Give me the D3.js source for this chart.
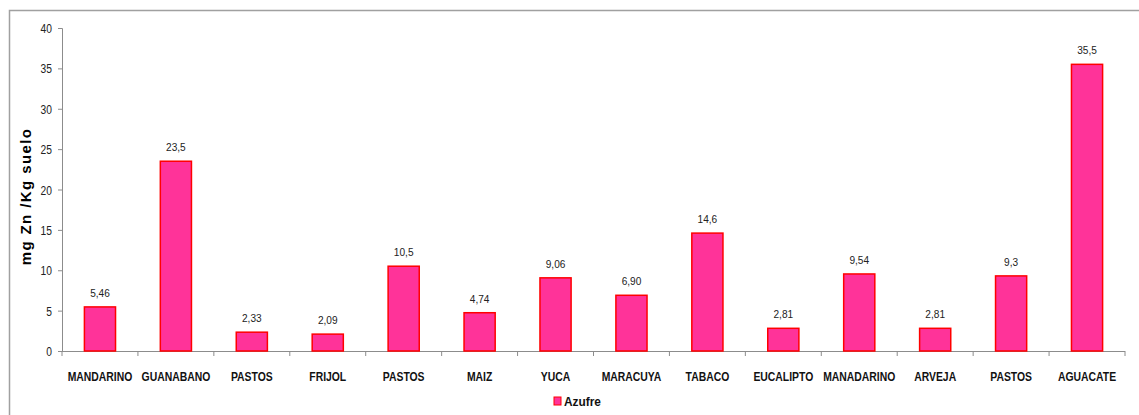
<!DOCTYPE html>
<html>
<head>
<meta charset="utf-8">
<script src="https://cdn.jsdelivr.net/npm/d3@7"></script>
<style>
  body { margin: 0; background: #fff; }
  svg { display: block; }
</style>
</head>
<body>
<div id="chart"></div>
<script>
/**
 * CONSTANTS AND DATA
 * */
const width = 1139,
  height = 415,
  margin = { top: 28, bottom: 64, left: 62, right: 14 };

const categories = ["MANDARINO", "GUANABANO", "PASTOS", "FRIJOL", "PASTOS", "MAIZ", "YUCA",
  "MARACUYA", "TABACO", "EUCALIPTO", "MANADARINO", "ARVEJA", "PASTOS", "AGUACATE"];
const azufre = [5.46, 23.5, 2.33, 2.09, 10.5, 4.74, 9.06, 6.90, 14.6, 2.81, 9.54, 2.81, 9.3, 35.5];
const valueLabels = ["5,46", "23,5", "2,33", "2,09", "10,5", "4,74", "9,06", "6,90", "14,6",
  "2,81", "9,54", "2,81", "9,3", "35,5"];
const yTicks = [0, 5, 10, 15, 20, 25, 30, 35, 40];

// no narrow font installed, so Liberation Sans gets squeezed horizontally
const font = "'Liberation Sans', Arial, sans-serif";

const svg = d3.select("#chart")
  .append("svg")
  .attr("width", width)
  .attr("height", height);

// outer frame of the chart area (top + left edges visible)
svg.append("path")
  .attr("d", `M9.5,${height} V10.5 H${width}`)
  .attr("fill", "none")
  .attr("stroke", "#a0a0a0")
  .attr("stroke-width", 1.5);

const x = d3.scaleBand()
  .domain(d3.range(categories.length))
  .range([margin.left, width - margin.right])
  .paddingInner(0.59)
  .paddingOuter(0.295);

const y = d3.scaleLinear()
  .domain([0, 40])
  .range([height - margin.bottom, margin.top]);

// y axis
const yAxis = svg.append("g")
  .attr("transform", `translate(${margin.left},0)`)
  .call(d3.axisLeft(y).tickValues(yTicks).tickSize(4).tickPadding(6));
yAxis.select(".domain").attr("stroke", "#8c8c8c");
yAxis.selectAll(".tick line").attr("stroke", "#8c8c8c");
yAxis.selectAll(".tick text")
  .attr("x", null).attr("dy", null)
  .attr("transform", "translate(-10,4.5) scale(0.82,1)")
  .attr("font-family", font)
  .attr("font-size", 12.5)
  .attr("fill", "#222");

// x axis (ticks at band boundaries)
const x0 = margin.left, x1 = width - margin.right;
const step = (x1 - x0) / categories.length;
const xAxis = svg.append("g");
xAxis.append("line")
  .attr("x1", x0).attr("x2", x1)
  .attr("y1", y(0) + 0.5).attr("y2", y(0) + 0.5)
  .attr("stroke", "#8c8c8c");
xAxis.selectAll("line.tick")
  .data(d3.range(categories.length + 1))
  .join("line")
  .attr("class", "tick")
  .attr("x1", i => x0 + i * step)
  .attr("x2", i => x0 + i * step)
  .attr("y1", y(0))
  .attr("y2", y(0) + 5)
  .attr("stroke", "#8c8c8c");

xAxis.selectAll("text")
  .data(categories)
  .join("text")
  .attr("transform", (d, i) => `translate(${x(i) + x.bandwidth() / 2},381) scale(0.77,1)`)
  .attr("text-anchor", "middle")
  .attr("font-family", font)
  .attr("font-weight", "bold")
  .attr("font-size", 13.5)
  .attr("fill", "#111")
  .text(d => d);

// bars
svg.selectAll("rect.bar")
  .data(azufre)
  .join("rect")
  .attr("class", "bar")
  .attr("x", (d, i) => x(i))
  .attr("y", d => y(d))
  .attr("width", x.bandwidth())
  .attr("height", d => y(0) - y(d))
  .attr("fill", "#ff3399")
  .attr("stroke", "#ff0000")
  .attr("stroke-width", 1.5);

// value labels
svg.selectAll("text.value")
  .data(azufre)
  .join("text")
  .attr("class", "value")
  .attr("transform", (d, i) => `translate(${x(i) + x.bandwidth() / 2},${y(d) - 10}) scale(0.88,1)`)
  .attr("text-anchor", "middle")
  .attr("font-family", font)
  .attr("font-size", 11.5)
  .attr("fill", "#222")
  .text((d, i) => valueLabels[i]);

// y axis title
svg.append("text")
  .attr("transform", `translate(31,${(y(0) + y(40)) / 2 + 7}) rotate(-90)`)
  .attr("text-anchor", "middle")
  .attr("font-family", font)
  .attr("font-weight", "bold")
  .attr("font-size", 15)
  .attr("letter-spacing", 1.4)
  .attr("fill", "#000")
  .text("mg Zn /Kg suelo");

// legend
const legend = svg.append("g").attr("transform", "translate(554,397)");
legend.append("rect")
  .attr("width", 7).attr("height", 8)
  .attr("fill", "#ff3399")
  .attr("stroke", "#ff0000")
  .attr("stroke-width", 1);
legend.append("text")
  .attr("transform", "translate(10,9) scale(0.88,1)")
  .attr("font-family", font)
  .attr("font-weight", "bold")
  .attr("font-size", 13.5)
  .attr("fill", "#111")
  .text("Azufre");
</script>
</body>
</html>
